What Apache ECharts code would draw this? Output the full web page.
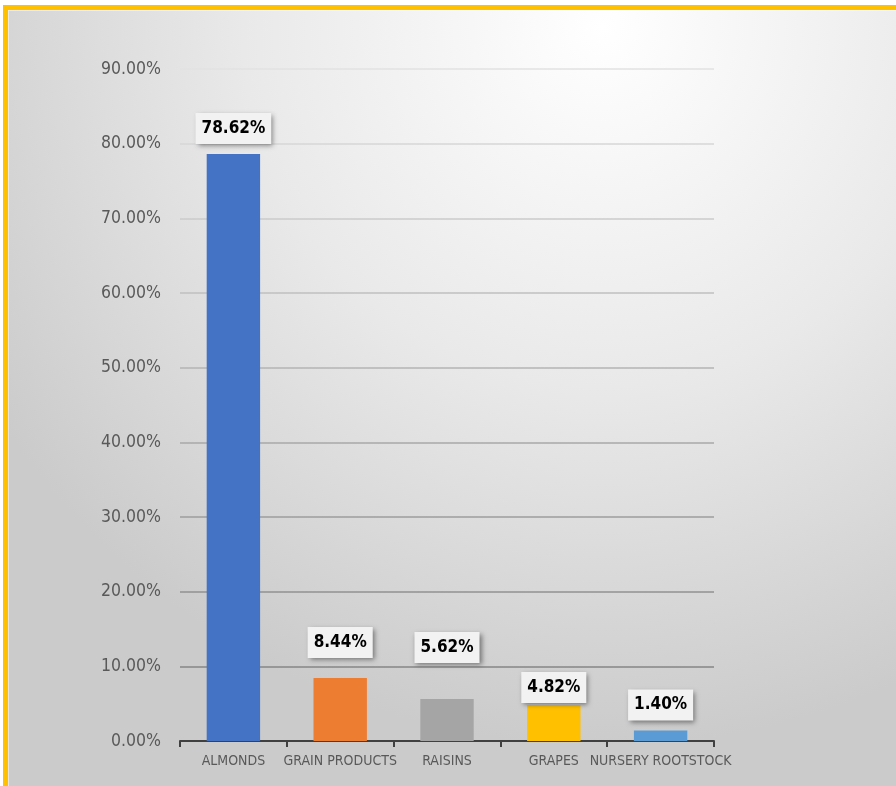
<!DOCTYPE html>
<html>
<head>
<meta charset="utf-8">
<script src="https://cdn.jsdelivr.net/npm/echarts@6/dist/echarts.min.js"></script>
<style>
  html, body { margin: 0; padding: 0; background: #ffffff; overflow: hidden; }
  #frame { position: absolute; left: 3px; top: 5px; width: 1000px; height: 900px;
           border-left: 5.5px solid #ffc000; border-top: 5.5px solid #ffc000; }
  #chart { position: absolute; left: 0; top: 0; width: 896px; height: 786px; }
</style>
</head>
<body>
<div id="frame"></div>
<div id="chart"></div>
<script>
const categories = ['ALMONDS', 'GRAIN PRODUCTS', 'RAISINS', 'GRAPES', 'NURSERY ROOTSTOCK'];
const shares = [78.62, 8.44, 5.62, 4.82, 1.40];
const barColors = ['#4472c4', '#ed7d31', '#a5a5a5', '#ffc000', '#5b9bd5'];
const yTicks = { min: 0, max: 90, interval: 10 };

const FONT = "'Liberation Sans Narrow', 'DejaVu Sans Condensed', 'Liberation Sans', sans-serif";
// label gap above each bar (as placed in the original)
const labelGap = [10, 20, 36, 2, 10];

const chart = echarts.init(document.getElementById('chart'), null, { renderer: 'canvas' });

chart.setOption({
  backgroundColor: 'transparent',
  animation: false,
  graphic: [{
    type: 'rect', z: -10, silent: true,
    shape: { x: 8.5, y: 10.5, width: 900, height: 800 },
    style: {
      fill: { type: 'radial', x: 0.66, y: 0.02, r: 0.9,
        colorStops: [{ offset: 0, color: '#ffffff' }, { offset: 0.5, color: '#e9e9e9' }, { offset: 1, color: '#cbcbcb' }] }
    }
  }],
  grid: { left: 180, right: 182, top: 69, bottom: 45, containLabel: false },
  xAxis: {
    type: 'category',
    data: categories,
    axisLine: { show: true, lineStyle: { color: '#404040', width: 2 } },
    axisTick: { show: true, alignWithLabel: false, length: 6, lineStyle: { color: '#404040', width: 2 } },
    axisLabel: { color: '#595959', fontFamily: FONT, fontSize: 14, margin: 13, interval: 0 }
  },
  yAxis: {
    type: 'value',
    min: yTicks.min, max: yTicks.max, interval: yTicks.interval,
    axisLine: { show: false },
    axisTick: { show: false },
    axisLabel: { color: '#595959', fontFamily: FONT, fontSize: 17.5, margin: 19,
      formatter: v => v.toFixed(2) + '%' },
    splitLine: { show: true, lineStyle: { width: 1.5,
      color: { type: 'linear', x: 0, y: 69, x2: 0, y2: 741, global: true,
        colorStops: [{ offset: 0, color: '#e2e2e2' }, { offset: 1, color: '#7a7a7a' }] } } }
  },
  series: [{
    type: 'bar',
    barCategoryGap: '50%',
    data: shares.map((v, i) => ({
      value: v,
      itemStyle: { color: barColors[i] },
      label: { distance: labelGap[i] }
    })),
    label: {
      show: true,
      position: 'top',
      formatter: p => p.value.toFixed(2) + '%',
      color: '#000000',
      fontFamily: FONT,
      fontWeight: 'bold',
      fontSize: 17,
      lineHeight: 19,
      backgroundColor: '#f2f2f2',
      padding: [6, 6, 6, 6],
      shadowColor: 'rgba(0,0,0,0.45)',
      shadowBlur: 5,
      shadowOffsetX: 2,
      shadowOffsetY: 2
    }
  }]
});
</script>
</body>
</html>
